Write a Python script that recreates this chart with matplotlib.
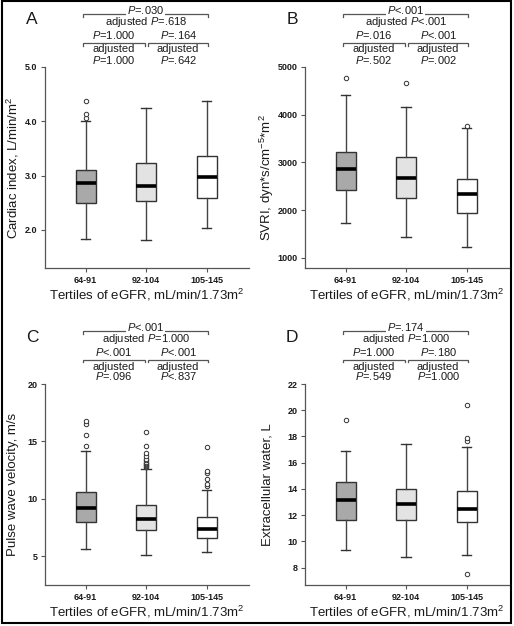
import matplotlib
matplotlib.use('Agg')
import matplotlib.pyplot as plt
from matplotlib.transforms import blended_transform_factory
from matplotlib.patches import Rectangle

plt.rcParams['font.family'] = ['Liberation Sans', 'DejaVu Sans']
plt.rcParams['mathtext.fontset'] = 'custom'
plt.rcParams['mathtext.rm'] = 'Liberation Sans'
plt.rcParams['mathtext.it'] = 'Liberation Sans:italic'
plt.rcParams['mathtext.bf'] = 'Liberation Sans:bold'

# ---------------- data ----------------
groups = ['64-91', '92-104', '105-145']
box_colors = ['#a9a9a9', '#e3e3e3', '#ffffff']

# A: Cardiac index
ci_whislo = [1.83, 1.82, 2.03]
ci_q1 = [2.50, 2.54, 2.58]
ci_med = [2.86, 2.81, 2.97]
ci_q3 = [3.10, 3.24, 3.36]
ci_whishi = [4.01, 4.25, 4.37]
ci_fliers = [[4.06, 4.13, 4.38], [], []]

# B: SVRI
svri_whislo = [1739, 1446, 1237]
svri_q1 = [2424, 2250, 1949]
svri_med = [2858, 2682, 2334]
svri_q3 = [3230, 3122, 2654]
svri_whishi = [4414, 4169, 3716]
svri_fliers = [[4764], [4671], [3771]]

# C: Pulse wave velocity
pwv_whislo = [5.69, 5.14, 5.40]
pwv_q1 = [8.03, 7.28, 6.64]
pwv_med = [9.18, 8.29, 7.42]
pwv_q3 = [10.59, 9.47, 8.46]
pwv_whishi = [14.2, 12.64, 10.82]
pwv_fliers = [[14.57, 15.59, 16.51, 16.8],
              [12.75, 12.85, 12.95, 13.05, 13.15, 13.25, 13.35, 13.5, 13.7, 14.0, 14.65, 15.8],
              [11.17, 11.34, 11.78, 12.27, 12.41, 14.52]]

# D: Extracellular water
ecw_whislo = [9.33, 8.80, 8.93]
ecw_q1 = [11.59, 11.64, 11.44]
ecw_med = [13.15, 12.85, 12.45]
ecw_q3 = [14.49, 14.00, 13.83]
ecw_whishi = [16.92, 17.43, 17.17]
ecw_fliers = [[19.24], [], [17.64, 17.87, 20.39, 7.49]]

letters = ['A', 'B', 'C', 'D']
ylabels = ['Cardiac index, L/min/m$^{2}$',
           'SVRI, dyn*s/cm$^{-5}$*m$^{2}$',
           'Pulse wave velocity, m/s',
           'Extracellular water, L']
yticks = [[2, 3, 4, 5], [1000, 2000, 3000, 4000, 5000], [5, 10, 15, 20],
          [8, 10, 12, 14, 16, 18, 20, 22]]
yticklabels = [['2.0', '3.0', '4.0', '5.0'], ['1000', '2000', '3000', '4000', '5000'],
               ['5', '10', '15', '20'], ['8', '10', '12', '14', '16', '18', '20', '22']]
ylims = [(1.30, 5.0), (790, 5000), (2.52, 20), (6.67, 22)]

# p-value texts
p_overall = ['$\\mathit{P}$=.030', '$\\mathit{P}$<.001', '$\\mathit{P}$<.001', '$\\mathit{P}$=.174']
p_overall_adj = ['adjusted $\\mathit{P}$=.618', 'adjusted $\\mathit{P}$<.001',
                 'adjusted $\\mathit{P}$=1.000', 'adjusted $\\mathit{P}$=1.000']
p_left = ['$\\mathit{P}$=1.000', '$\\mathit{P}$=.016', '$\\mathit{P}$<.001', '$\\mathit{P}$=1.000']
p_left_adj = ['$\\mathit{P}$=1.000', '$\\mathit{P}$=.502', '$\\mathit{P}$=.096', '$\\mathit{P}$=.549']
p_right = ['$\\mathit{P}$=.164', '$\\mathit{P}$<.001', '$\\mathit{P}$<.001', '$\\mathit{P}$=.180']
p_right_adj = ['$\\mathit{P}$=.642', '$\\mathit{P}$=.002', '$\\mathit{P}$<.837', '$\\mathit{P}$=1.000']

xlabel = 'Tertiles of eGFR, mL/min/1.73m$^{2}$'

panels = [
    (ci_whislo, ci_q1, ci_med, ci_q3, ci_whishi, ci_fliers),
    (svri_whislo, svri_q1, svri_med, svri_q3, svri_whishi, svri_fliers),
    (pwv_whislo, pwv_q1, pwv_med, pwv_q3, pwv_whishi, pwv_fliers),
    (ecw_whislo, ecw_q1, ecw_med, ecw_q3, ecw_whishi, ecw_fliers),
]

# ---------------- layout ----------------
W, H = 514, 626
fig = plt.figure(figsize=(W / 100, H / 100), dpi=100)

lefts = [45, 305, 45, 305]
tops = [67, 67, 384, 384]
ax_w, ax_h = 204, 201
row_off = [0, 0, 317, 317]
ylabel_x = [13, 267, 13, 268]
ylabel_dy = [0, 10, 0, 0]

spine_c = '#555555'
text_c = '#1a1a1a'
line_c = '#555555'
fs_p = 8


def fy(y):
    return 1 - y / H


for i, (wlo, q1, med, q3, whi, fl) in enumerate(panels):
    l, t = lefts[i], tops[i]
    ax = fig.add_axes([l / W, 1 - (t + ax_h) / H, ax_w / W, ax_h / H])
    stats = [dict(med=med[k], q1=q1[k], q3=q3[k], whislo=wlo[k], whishi=whi[k],
                  fliers=fl[k]) for k in range(3)]
    bp = ax.bxp(stats, positions=[1, 2, 3], widths=0.33, patch_artist=True,
                showfliers=True, capwidths=0.16,
                boxprops=dict(edgecolor='#333333', linewidth=1.0),
                medianprops=dict(color='black', linewidth=2.6, solid_capstyle='butt'),
                whiskerprops=dict(color='#444444', linewidth=1.0),
                capprops=dict(color='#333333', linewidth=1.0),
                flierprops=dict(marker='o', markersize=3.2, markerfacecolor='white',
                                markeredgecolor='#333333', markeredgewidth=0.7))
    for patch, c in zip(bp['boxes'], box_colors):
        patch.set_facecolor(c)
    ax.set_xlim(0.33, 3.70)
    ax.set_ylim(*ylims[i])
    ax.set_xticks([1, 2, 3])
    ax.set_xticklabels(groups)
    ax.set_yticks(yticks[i])
    ax.set_yticklabels(yticklabels[i])
    for s in ['top', 'right']:
        ax.spines[s].set_visible(False)
    for s in ['left', 'bottom']:
        ax.spines[s].set_color(spine_c)
        ax.spines[s].set_linewidth(0.9)
    ax.tick_params(axis='both', length=3, width=0.8, color=spine_c, labelsize=6.5,
                   labelcolor=text_c, pad=2.5)
    for lbl in ax.get_xticklabels() + ax.get_yticklabels():
        lbl.set_fontweight('bold')

    # axis labels
    cx = (l + ax_w / 2) / W
    fig.text(cx, fy(295 + row_off[i]), xlabel, ha='center', va='center',
             fontsize=9.5, color=text_c)
    fig.text(ylabel_x[i] / W, fy(t + ax_h / 2 + ylabel_dy[i]), ylabels[i], rotation=90,
             ha='center', va='center', fontsize=9.5, color=text_c)

    # panel letter
    fig.text((l - 13) / W, fy(20 + row_off[i]), letters[i], ha='center', va='center',
             fontsize=12.5, color=text_c)

    # brackets and p-values
    tr = blended_transform_factory(ax.transData, fig.transFigure)
    o = row_off[i]
    x0, x1 = 0.96, 3.03
    xm_l, xm_r = 1.98, 2.03

    def bracket(xa, xb, y):
        ax.plot([xa, xa, xb, xb], [fy(y + 3), fy(y), fy(y), fy(y + 3)], color=line_c,
                lw=0.9, transform=tr, clip_on=False, solid_joinstyle='miter')

    bracket(x0, x1, 14 + o)
    ax.text((x0 + x1) / 2, fy(10 + o), p_overall[i], transform=tr, ha='center',
            va='center', fontsize=fs_p, color=text_c,
            bbox=dict(facecolor='white', edgecolor='none', pad=0.8))
    ax.text((x0 + x1) / 2, fy(22 + o), p_overall_adj[i], transform=tr, ha='center',
            va='center', fontsize=fs_p, color=text_c)

    bracket(x0, xm_l, 42.5 + o)
    bracket(xm_r, x1, 42.5 + o)
    for (xa, xb, pt, pa) in [(x0, xm_l, p_left[i], p_left_adj[i]),
                             (xm_r, x1, p_right[i], p_right_adj[i])]:
        xc = (xa + xb) / 2
        ax.text(xc, fy(35 + o), pt, transform=tr, ha='center', va='center',
                fontsize=fs_p, color=text_c)
        ax.text(xc, fy(49.5 + o), 'adjusted', transform=tr, ha='center', va='center',
                fontsize=fs_p, color=text_c)
        ax.text(xc, fy(59.5 + o), pa, transform=tr, ha='center', va='center',
                fontsize=fs_p, color=text_c)

# outer frame
fig.patches.append(Rectangle((2 / W, 1 - 623 / H), 508.5 / W, 622 / H,
                             transform=fig.transFigure, fill=False,
                             edgecolor='black', linewidth=1.5))

fig.savefig('out.png', dpi=100)
